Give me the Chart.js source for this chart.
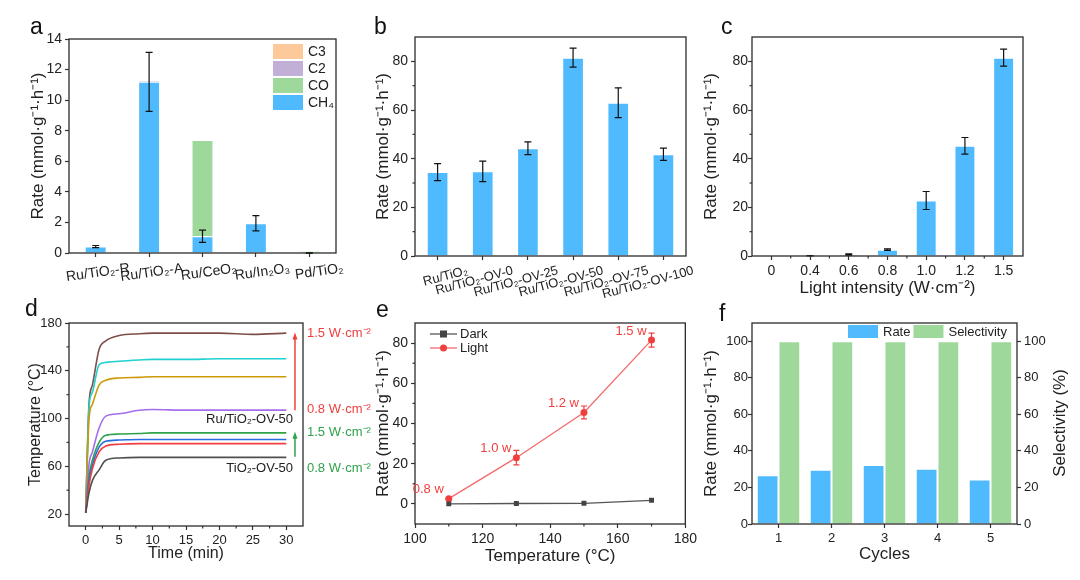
<!DOCTYPE html>
<html>
<head>
<meta charset="utf-8">
<script src="https://cdn.jsdelivr.net/npm/chart.js@4.4.0/dist/chart.umd.min.js"></script>
<style>
  body { margin: 0; background: #fff; width: 1080px; height: 580px; position: relative; overflow: hidden;
         font-family: 'Liberation Sans', Arial, sans-serif; }
  canvas { position: absolute; }
  .tag { position: absolute; font-size: 23px; line-height: 1; color: #111; }
</style>
</head>
<body>
<canvas id="ca" width="360" height="300" style="left:0;top:0"></canvas>
<canvas id="cb" width="360" height="305" style="left:360px;top:0"></canvas>
<canvas id="cc" width="380" height="305" style="left:700px;top:0"></canvas>
<canvas id="cd" width="380" height="290" style="left:0;top:290px"></canvas>
<canvas id="ce" width="340" height="290" style="left:360px;top:290px"></canvas>
<canvas id="cf" width="380" height="290" style="left:700px;top:290px"></canvas>
<div class="tag" style="left:30px;top:15px">a</div>
<div class="tag" style="left:374px;top:15px">b</div>
<div class="tag" style="left:721px;top:15px">c</div>
<div class="tag" style="left:25px;top:297px">d</div>
<div class="tag" style="left:376px;top:298px">e</div>
<div class="tag" style="left:719px;top:302px">f</div>
<script>
// ---- data ----
// a: product rates over catalysts
const catsA = ['Ru/TiO₂-R', 'Ru/TiO₂-A', 'Ru/CeO₂', 'Ru/In₂O₃', 'Pd/TiO₂'];
const ch4A = [0.42, 11.2, 1.1, 1.95, 0];
const coA = [0, 0, 6.3, 0, 0.12];
const c2A = [0, 0.06, 0, 0, 0];
const c3A = [0, 0, 0, 0, 0];
const errA = [0.07, 1.93, 0.4, 0.5, 0.02];
const yTicksA = [0, 2, 4, 6, 8, 10, 12, 14];

// b: oxygen vacancy series
const catsB = ['Ru/TiO₂', 'Ru/TiO₂-OV-0', 'Ru/TiO₂-OV-25', 'Ru/TiO₂-OV-50', 'Ru/TiO₂-OV-75', 'Ru/TiO₂-OV-100'];
const rateB = [34.5, 34.8, 44.3, 81.5, 63, 41.8];
const errB = [3.5, 4.2, 2.6, 3.9, 6.1, 2.5];

// c: light intensity
const catsC = ['0', '0.4', '0.6', '0.8', '1.0', '1.2', '1.5'];
const rateC = [0, 0.1, 0.6, 2.6, 22.8, 45.3, 81.5];
const errC = [0, 0.1, 0.25, 0.3, 3.7, 3.4, 3.5];
const yTicksBC = [0, 20, 40, 60, 80];

// d: temperature vs time
const timeD = [0, 0.5, 1, 2, 3, 5, 8, 10, 15, 20, 25, 30];
const tBrown = [22, 113, 128, 158, 165, 169.5, 171, 171.5, 171.5, 171.5, 170.5, 171.5];
const tCyan = [21, 110, 122, 145, 147, 148, 149, 149.5, 149.5, 150, 150, 150];
const tGold = [22, 100, 112, 128, 132, 134, 134.5, 135, 135, 135, 135, 135];
const tPurple = [21, 62, 72, 92, 102, 104, 107, 107.5, 107, 107, 107, 107];
const tGreen = [21, 52, 65, 80, 86, 87, 87.5, 88, 88, 88, 88, 88];
const tBlue = [21, 48, 61, 76, 81, 82, 82.5, 82.5, 82.5, 82.5, 82.5, 82.5];
const tRed = [21, 44, 58, 72, 77, 78.5, 79, 79, 79, 79, 79, 79];
const tGray = [21, 38, 48, 57, 65, 67, 67.5, 67.5, 67.5, 67.5, 67.5, 67.5];
const yTicksD = [20, 60, 100, 140, 180];
const xTicksD = [0, 5, 10, 15, 20, 25, 30];

// e: rate vs temperature
const tempE = [110, 130, 150, 170];
const darkE = [0, 0.2, 0.3, 1.8];
const lightE = [2.6, 23, 45.5, 81.5];
const errLightE = [0.5, 3.6, 3.2, 3.5];
const powerE = ['0.8 w', '1.0 w', '1.2 w', '1.5 w'];
const xTicksE = [100, 120, 140, 160, 180];

// f: cycling
const cyclesF = ['1', '2', '3', '4', '5'];
const rateF = [26.7, 29.7, 32.3, 30.2, 24.3];
const selF = [100, 100, 100, 100, 100];
const yTicksF = [0, 20, 40, 60, 80, 100];

// ---- style ----
const BLUE = '#4fbbfe', GREEN = '#9ed89b', PURPLE = '#c1afd7', ORANGE = '#fdc99b';
const RED = '#f0403e', DGREEN = '#2ea24a';
const FONT = "'Liberation Sans', Arial, sans-serif";
const RATE = 'Rate (mmol·g⁻¹·h⁻¹)';

Chart.defaults.font.family = FONT;
Chart.defaults.color = '#222';
Chart.defaults.animation = false;
Chart.defaults.plugins.legend.display = false;
Chart.defaults.plugins.tooltip.enabled = false;

// error bars, minor ticks, frame, labels and legends
const extras = {
  id: 'extras',
  afterDatasetsDraw(chart, args, o) {
    const ctx = chart.ctx;
    (o.errorBars || []).forEach(eb => {
      const meta = chart.getDatasetMeta(eb.dataset);
      const ys = chart.scales[meta.yAxisID];
      const vals = chart.data.datasets[eb.dataset].data;
      ctx.save();
      ctx.strokeStyle = eb.color || '#111';
      ctx.lineWidth = 1.2;
      meta.data.forEach((el, i) => {
        const e = eb.err[i];
        if (!e) return;
        const x = el.x, top = ys.getPixelForValue(vals[i] + e), bot = ys.getPixelForValue(vals[i] - e);
        const c = eb.cap || 3.5;
        ctx.beginPath();
        ctx.moveTo(x, top); ctx.lineTo(x, bot);
        ctx.moveTo(x - c, top); ctx.lineTo(x + c, top);
        ctx.moveTo(x - c, bot); ctx.lineTo(x + c, bot);
        ctx.stroke();
      });
      ctx.restore();
    });
  },
  afterDraw(chart, args, o) {
    const ctx = chart.ctx, ca = chart.chartArea;
    ctx.save();
    const mt = o.minor || {};
    ctx.strokeStyle = '#333';
    ctx.lineWidth = 1.2;
    Object.keys(mt).forEach(id => {
      const s = chart.scales[id];
      mt[id].forEach(v => {
        const p = s.getPixelForValue(v);
        ctx.beginPath();
        if (s.isHorizontal()) { ctx.moveTo(p, ca.bottom); ctx.lineTo(p, ca.bottom + 2.5); }
        else if (s.position === 'right') { ctx.moveTo(ca.right, p); ctx.lineTo(ca.right + 2.5, p); }
        else { ctx.moveTo(ca.left - 2.5, p); ctx.lineTo(ca.left, p); }
        ctx.stroke();
      });
    });
    ctx.lineWidth = 1.3;
    ctx.strokeStyle = '#2b2b2b';
    ctx.strokeRect(ca.left, ca.top, ca.right - ca.left, ca.bottom - ca.top);

    (o.arrows || []).forEach(a => {
      const x = chart.scales.x.getPixelForValue(a.x);
      const y1 = chart.scales.y.getPixelForValue(a.from), y2 = chart.scales.y.getPixelForValue(a.to);
      ctx.strokeStyle = a.color; ctx.fillStyle = a.color; ctx.lineWidth = 1.5;
      ctx.beginPath(); ctx.moveTo(x, y1); ctx.lineTo(x, y2 + 5); ctx.stroke();
      ctx.beginPath(); ctx.moveTo(x, y2); ctx.lineTo(x - 2.5, y2 + 7); ctx.lineTo(x + 2.5, y2 + 7);
      ctx.closePath(); ctx.fill();
    });

    ctx.textBaseline = 'middle';
    (o.texts || []).forEach(t => {
      const x = t.px ? t.x : chart.scales.x.getPixelForValue(t.x);
      const y = t.px ? t.y : chart.scales.y.getPixelForValue(t.y);
      ctx.save();
      ctx.translate(x, y);
      if (t.rot) ctx.rotate(t.rot);
      ctx.font = (t.size || 13) + 'px ' + FONT;
      ctx.fillStyle = t.color || '#222';
      ctx.textAlign = t.align || 'left';
      ctx.fillText(t.text, 0, 0);
      ctx.restore();
    });

    if (o.pointLabels) {
      const pl = o.pointLabels;
      ctx.font = pl.size + 'px ' + FONT;
      ctx.fillStyle = pl.color;
      ctx.textAlign = 'right';
      chart.getDatasetMeta(pl.dataset).data.forEach((el, i) => {
        ctx.fillText(pl.labels[i], el.x + pl.dx, el.y + pl.dy);
      });
    }

    if (o.boxLegend) {
      const b = o.boxLegend;
      const items = chart.data.datasets.map(d => ({ label: d.label, color: d.backgroundColor }));
      if (b.reverse) items.reverse();
      ctx.font = b.size + 'px ' + FONT;
      ctx.textAlign = 'left';
      let x = b.x, y = b.y;
      items.forEach(it => {
        ctx.fillStyle = it.color;
        ctx.fillRect(x, y, b.w, b.h);
        ctx.fillStyle = '#222';
        ctx.fillText(it.label, x + b.w + b.gap, y + b.h / 2 + 1);
        if (b.row) x += b.w + b.gap + ctx.measureText(it.label).width + b.sep;
        else y += b.h + b.sep;
      });
    }

    if (o.lineLegend) {
      const L = o.lineLegend;
      ctx.font = L.size + 'px ' + FONT;
      ctx.textAlign = 'left';
      chart.data.datasets.forEach((d, i) => {
        const y = L.y + i * L.dy, xm = L.x + L.len / 2, r = d.pointRadius;
        ctx.strokeStyle = d.borderColor; ctx.lineWidth = d.borderWidth;
        ctx.beginPath(); ctx.moveTo(L.x, y); ctx.lineTo(L.x + L.len, y); ctx.stroke();
        ctx.fillStyle = d.pointBackgroundColor;
        if (d.pointStyle === 'rect') ctx.fillRect(xm - r, y - r, 2 * r, 2 * r);
        else { ctx.beginPath(); ctx.arc(xm, y, r, 0, Math.PI * 2); ctx.fill(); }
        ctx.fillStyle = '#222';
        ctx.fillText(d.label, L.x + L.len + 3, y);
      });
    }
    ctx.restore();
  }
};
Chart.register(extras);

// ---- axis helpers ----
function setTicks(list) {
  return function (s) { s.ticks = list.map(v => ({ value: v })); };
}
const gridOpts = { drawOnChartArea: false, tickLength: 4, tickColor: '#333', tickWidth: 1.2 };

function yAxis(min, max, list, w, size, title, tPad, extra, lblPad) {
  return Object.assign({
    min: min, max: max,
    afterBuildTicks: setTicks(list),
    afterFit: s => { s.width = w; },
    border: { display: false },
    grid: gridOpts,
    ticks: { font: { size: size }, padding: lblPad === undefined ? 3 : lblPad },
    title: { display: !!title, text: title, font: { size: 17 }, padding: { top: tPad, bottom: 0 } }
  }, extra || {});
}

function xCat(h, size, rot, off, title, tPad) {
  return {
    afterFit: s => { s.height = h; },
    border: { display: false },
    grid: Object.assign({ offset: false }, gridOpts),
    ticks: { font: { size: size }, minRotation: rot, maxRotation: rot, labelOffset: off, padding: 3, autoSkip: false },
    title: { display: !!title, text: title, font: { size: 17 }, padding: { top: 0, bottom: tPad } }
  };
}

function xLin(min, max, list, h, size, title, tPad, tsize) {
  return {
    type: 'linear', min: min, max: max,
    afterBuildTicks: setTicks(list),
    afterFit: s => { s.height = h; },
    border: { display: false },
    grid: gridOpts,
    ticks: { font: { size: size }, padding: 3 },
    title: { display: true, text: title, font: { size: tsize || 17 }, padding: { top: 0, bottom: tPad } }
  };
}

function bar(label, data, color, extra) {
  return Object.assign({ label: label, data: data, backgroundColor: color, borderColor: 'rgba(255,255,255,0.45)', borderWidth: 1 }, extra || {});
}

// ---- a ----
new Chart(document.getElementById('ca'), {
  type: 'bar',
  data: {
    labels: catsA,
    datasets: [
      bar('CH₄', ch4A, BLUE),
      bar('CO', coA, GREEN),
      bar('C2', c2A, PURPLE),
      bar('C3', c3A, ORANGE)
    ]
  },
  options: {
    responsive: false,
    layout: { padding: { left: 0, top: 39, right: 24, bottom: 0 } },
    datasets: { bar: { categoryPercentage: 1, barPercentage: 0.41 } },
    scales: {
      x: Object.assign(xCat(47, 14, 8, 34), { stacked: true }),
      y: yAxis(0, 14, yTicksA, 69, 14, RATE, 28, { stacked: true })
    },
    plugins: {
      extras: {
        errorBars: [{ dataset: 0, err: errA }],
        boxLegend: { x: 273, y: 44, w: 30, h: 15, gap: 5, sep: 2, size: 14, reverse: true }
      }
    }
  }
});

// ---- b ----
new Chart(document.getElementById('cb'), {
  type: 'bar',
  data: { labels: catsB, datasets: [bar('Rate', rateB, BLUE)] },
  options: {
    responsive: false,
    layout: { padding: { left: 0, top: 37, right: 34, bottom: 0 } },
    datasets: { bar: { categoryPercentage: 1, barPercentage: 0.48 } },
    scales: {
      x: xCat(49, 13, 15, 30),
      y: yAxis(0, 90, yTicksBC, 55, 14, RATE, 13)
    },
    plugins: {
      extras: {
        errorBars: [{ dataset: 0, err: errB }],
        minor: { y: [10, 30, 50, 70] }
      }
    }
  }
});

// ---- c ----
new Chart(document.getElementById('cc'), {
  type: 'bar',
  data: { labels: catsC, datasets: [bar('Rate', rateC, BLUE)] },
  options: {
    responsive: false,
    layout: { padding: { left: 0, top: 37, right: 57, bottom: 0 } },
    datasets: { bar: { categoryPercentage: 1, barPercentage: 0.54 } },
    scales: {
      x: xCat(49, 14, 0, 0, 'Light intensity (W·cm⁻²)', 6),
      y: yAxis(0, 90, yTicksBC, 52, 14, RATE, 1, null, 0)
    },
    plugins: {
      extras: {
        errorBars: [{ dataset: 0, err: errC }],
        minor: { x: [0.5, 1.5, 2.5, 3.5, 4.5, 5.5], y: [10, 30, 50, 70] }
      }
    }
  }
});

// ---- d ----
function curve(data, color) {
  return { data: data, borderColor: color, borderWidth: 1.6, pointRadius: 0, cubicInterpolationMode: 'monotone', fill: false };
}
new Chart(document.getElementById('cd'), {
  type: 'line',
  data: {
    labels: timeD,
    datasets: [
      curve(tGray, '#4f4f4f'),
      curve(tRed, RED),
      curve(tBlue, '#2a6dde'),
      curve(tGreen, DGREEN),
      curve(tPurple, '#a56deb'),
      curve(tGold, '#cc9a06'),
      curve(tCyan, '#21d0d0'),
      curve(tBrown, '#7d4f4a')
    ]
  },
  options: {
    responsive: false,
    layout: { padding: { left: 0, top: 33, right: 77, bottom: 0 } },
    scales: {
      x: xLin(-2.5, 32.5, xTicksD, 54, 13, 'Time (min)', 17, 16),
      y: yAxis(10, 180, yTicksD, 69, 13, '', 0, { title: { display: true, text: 'Temperature (°C)', font: { size: 16 }, padding: { top: 26, bottom: 0 } } })
    },
    plugins: {
      extras: {
        minor: { x: [2.5, 7.5, 12.5, 17.5, 22.5, 27.5], y: [40, 80, 120, 160] },
        arrows: [
          { x: 31.3, from: 107, to: 172, color: RED },
          { x: 31.3, from: 68, to: 89, color: DGREEN }
        ],
        texts: [
          { text: '1.5 W·cm⁻²', x: 33.1, y: 171, color: RED },
          { text: '0.8 W·cm⁻²', x: 33.1, y: 108, color: RED },
          { text: '1.5 W·cm⁻²', x: 33.1, y: 88, color: DGREEN },
          { text: '0.8 W·cm⁻²', x: 33.1, y: 58, color: DGREEN },
          { text: 'Ru/TiO₂-OV-50', x: 31, y: 99, align: 'right' },
          { text: 'TiO₂-OV-50', x: 31, y: 58.5, align: 'right' }
        ]
      }
    }
  }
});

// ---- e ----
new Chart(document.getElementById('ce'), {
  type: 'line',
  data: {
    labels: tempE,
    datasets: [
      { label: 'Dark', data: darkE, borderColor: '#555', borderWidth: 1.3, pointStyle: 'rect', pointRadius: 3.5,
        pointBackgroundColor: '#444', pointBorderWidth: 0 },
      { label: 'Light', data: lightE, borderColor: '#f36b6b', borderWidth: 1.3, pointStyle: 'circle', pointRadius: 3.5,
        pointBackgroundColor: RED, pointBorderWidth: 0 }
    ]
  },
  options: {
    responsive: false,
    layout: { padding: { left: 0, top: 33, right: 12, bottom: 0 } },
    scales: {
      x: xLin(100, 180, xTicksE, 56, 14, 'Temperature (°C)', 13),
      y: yAxis(-10, 90, yTicksBC, 55, 14, RATE, 13)
    },
    plugins: {
      extras: {
        errorBars: [{ dataset: 1, err: errLightE, color: RED, cap: 3 }],
        minor: { x: [110, 130, 150, 170], y: [10, 30, 50, 70] },
        pointLabels: { dataset: 1, labels: powerE, dx: -5, dy: -9, color: RED, size: 13 },
        lineLegend: { x: 70, y: 44, dy: 14, len: 27, size: 13 }
      }
    }
  }
});

// ---- f ----
new Chart(document.getElementById('cf'), {
  type: 'bar',
  data: {
    labels: cyclesF,
    datasets: [
      bar('Rate', rateF, BLUE, { yAxisID: 'y' }),
      bar('Selectivity', selF, GREEN, { yAxisID: 'y1' })
    ]
  },
  options: {
    responsive: false,
    layout: { padding: { left: 0, top: 33, right: 0, bottom: 0 } },
    datasets: { bar: { categoryPercentage: 0.82, barPercentage: 1 } },
    scales: {
      x: xCat(56, 13, 0, 0, 'Cycles', 15),
      y: yAxis(0, 110, yTicksF, 52, 13, RATE, 1, null, 0),
      y1: yAxis(0, 110, yTicksF, 63, 13, '', 0, { position: 'right' })
    },
    plugins: {
      extras: {
        boxLegend: { x: 148, y: 35, w: 30, h: 13, gap: 5, sep: 3, size: 13, row: true },
        texts: [{ text: 'Selectivity (%)', x: 360, y: 133, px: true, rot: -Math.PI / 2, size: 17, align: 'center' }]
      }
    }
  }
});
</script>
</body>
</html>
